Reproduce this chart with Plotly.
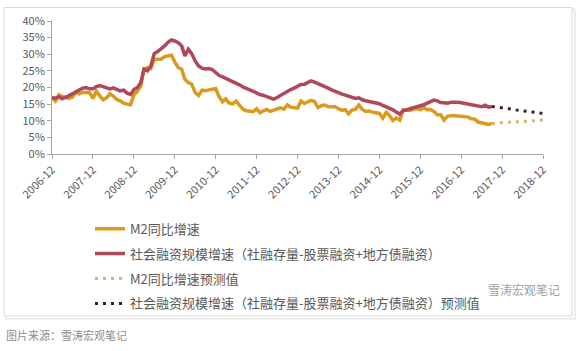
import plotly.graph_objects as go
import pandas as pd

# ---- data (monthly, 2006-12 .. 2017-09) ----
m2_actual = [
    16.9,
    15.9, 17.8, 17.3, 17.1, 16.7, 17.1, 18.5, 18.1, 18.5, 18.5, 18.5, 16.7,
    18.9, 17.5, 16.3, 16.9, 18.1, 17.4, 16.4, 16.0, 15.3, 15.0, 14.8, 17.8,
    18.8, 20.5, 25.5, 26.0, 25.7, 28.5, 28.4, 28.5, 29.3, 29.4, 29.7, 27.7,
    26.0, 25.5, 22.5, 21.5, 21.0, 18.5, 17.6, 19.2, 19.0, 19.3, 19.5, 19.7,
    17.2, 15.7, 16.6, 15.3, 15.1, 15.9, 14.7, 13.5, 13.0, 12.9, 12.7, 13.6,
    12.4, 13.0, 13.4, 12.8, 13.2, 13.6, 13.9, 13.5, 14.8, 14.1, 13.9, 13.8,
    15.9, 15.2, 15.7, 16.1, 15.8, 14.0, 14.5, 14.7, 14.2, 14.3, 14.2, 13.6,
    13.2, 13.3, 12.1, 13.2, 13.4, 14.7, 13.5, 12.8, 12.9, 12.6, 12.3, 12.2,
    10.8, 12.5, 11.6, 10.1, 10.8, 10.2, 13.3, 13.3, 13.1, 13.5, 13.7, 13.3,
    14.0, 13.3, 13.4, 12.8, 11.8, 11.8, 10.2, 11.4, 11.5, 11.6, 11.4, 11.3,
    11.3, 11.1, 10.6, 10.5, 9.6, 9.4, 9.2, 8.9, 9.2,
]
tsf_actual = [
    17.0,
    16.8, 17.2, 16.6, 17.0, 17.5, 18.0, 18.6, 19.2, 19.8, 20.0, 19.6, 19.6,
    20.3, 20.6, 20.3, 19.9, 19.6, 19.9, 19.5, 19.0, 19.2, 18.3, 17.9, 19.4,
    20.0, 21.5, 25.5, 25.0, 26.5, 30.2, 30.8, 31.5, 32.5, 33.6, 34.3, 34.0,
    33.5, 32.5, 29.5, 31.5, 30.2, 28.0, 26.5, 25.8, 25.6, 25.7, 25.4, 24.5,
    23.6, 23.2, 22.8, 22.2, 21.8, 21.3, 20.8, 20.2, 19.7, 19.2, 18.8, 18.4,
    17.9, 17.6, 17.2, 16.8, 16.5, 17.0, 17.6, 18.3, 19.0, 19.4, 19.8, 20.3,
    20.9, 21.0, 21.4, 22.0, 21.6, 21.2, 20.6, 20.2, 19.8, 19.3, 18.8, 18.5,
    18.0, 17.7, 17.3, 17.0, 16.7, 16.9, 16.3, 16.0, 15.8, 15.5, 15.3, 15.1,
    14.6, 14.2, 13.8, 13.3, 12.6, 12.0, 13.0, 13.3, 13.6, 13.9, 14.1, 14.4,
    14.8, 15.3, 15.8, 16.2, 16.0, 15.5, 15.4, 15.3, 15.6, 15.7, 15.6, 15.4,
    15.2, 14.9, 14.8, 14.6, 14.4, 14.2, 14.7, 14.1, 14.3,
]
# forecast (monthly, 2017-09 .. 2018-12)
m2_forecast = [9.2, 9.3, 9.3, 9.4, 9.5, 9.5, 9.6, 9.7, 9.7, 9.8, 9.9, 9.9, 10.0, 10.1, 10.1, 10.2]
tsf_forecast = [14.3, 14.1, 14.0, 13.9, 13.7, 13.6, 13.4, 13.3, 13.1, 13.0, 12.9, 12.7, 12.6, 12.5, 12.3, 12.2]

names = [
    "M2同比增速",
    "社会融资规模增速（社融存量-股票融资+地方债融资）",
    "M2同比增速预测值",
    "社会融资规模增速（社融存量-股票融资+地方债融资）预测值",
]
y_ticks = [0, 5, 10, 15, 20, 25, 30, 35, 40]
y_tick_text = ["0%", "5%", "10%", "15%", "20%", "25%", "30%", "35%", "40%"]

dates_actual = pd.date_range("2006-12-01", periods=len(m2_actual), freq="MS")
dates_fc = pd.date_range("2017-09-01", periods=len(m2_forecast), freq="MS")

ORANGE = "#DC9A1C"
RED = "#B0475A"
ORANGE_FC = "#D8B46E"
RED_FC = "#3B1C28"

fig = go.Figure()
fig.add_trace(go.Scatter(x=dates_actual, y=m2_actual, mode="lines", name=names[0],
                         legendgroup="a", line=dict(color=ORANGE, width=3.5)))
fig.add_trace(go.Scatter(x=dates_actual, y=tsf_actual, mode="lines", name=names[1],
                         legendgroup="b", line=dict(color=RED, width=3.5)))
fig.add_trace(go.Scatter(x=dates_fc, y=m2_forecast, mode="lines", name=names[2],
                         legendgroup="c", line=dict(color=ORANGE_FC, width=3, dash="3px,5px")))
fig.add_trace(go.Scatter(x=dates_fc, y=tsf_forecast, mode="lines", name=names[3],
                         legendgroup="d", line=dict(color=RED_FC, width=3, dash="3px,5px")))

L, R, T, B = 52, 33, 16, 197
W, H = 576, 351
pw, ph = W - L - R, H - T - B

def px(x):
    return (x - L) / pw

def py(y):
    return (H - B - y) / ph

# card frame + soft shadow
fig.add_shape(type="rect", xref="paper", yref="paper", layer="below",
              x0=px(6), x1=px(575), y0=py(325), y1=py(4),
              line=dict(color="#ececec", width=2), fillcolor="rgba(0,0,0,0)")
fig.add_shape(type="rect", xref="paper", yref="paper", layer="below",
              x0=px(4), x1=px(572), y0=py(322), y1=py(2),
              line=dict(color="#dadada", width=1), fillcolor="white")

fig.add_annotation(text="图片来源：雪涛宏观笔记", xref="paper", yref="paper",
                   x=px(4), y=py(342), xanchor="left", yanchor="middle", showarrow=False,
                   font=dict(size=11, color="#8c8c8c", family="Noto Sans CJK SC"))
fig.add_annotation(text="雪涛宏观笔记", xref="paper", yref="paper",
                   x=px(562), y=py(295), xanchor="right", yanchor="middle", showarrow=False,
                   font=dict(size=12, color="#a0a0a0", family="Noto Sans CJK SC"))

fig.update_layout(
    width=W, height=H,
    margin=dict(l=L, r=R, t=T, b=B),
    paper_bgcolor="white", plot_bgcolor="white",
    font=dict(family="Noto Sans CJK SC, Noto Sans, sans-serif", color="#595959"),
    showlegend=True,
    legend=dict(x=px(90), y=py(216), xanchor="left", yanchor="top",
                font=dict(size=13, color="#595959"),
                tracegroupgap=5, bgcolor="rgba(0,0,0,0)", itemwidth=30),
    xaxis=dict(type="date", range=["2006-12-01", "2018-12-01"],
               tick0="2006-12-01", dtick="M12", tickformat="%Y-%m",
               tickangle=-45, ticks="outside", ticklen=4, tickcolor="#a6a6a6",
               showline=True, linecolor="#a6a6a6", linewidth=1, showgrid=False,
               zeroline=False, tickfont=dict(size=11, color="#595959")),
    yaxis=dict(range=[0, 40], tickvals=y_ticks, ticktext=y_tick_text,
               ticks="outside", ticklen=4, tickcolor="#a6a6a6",
               showline=True, linecolor="#a6a6a6", linewidth=1, showgrid=False,
               zeroline=False, tickfont=dict(size=11, color="#595959")),
)

fig.write_html("out.html")
